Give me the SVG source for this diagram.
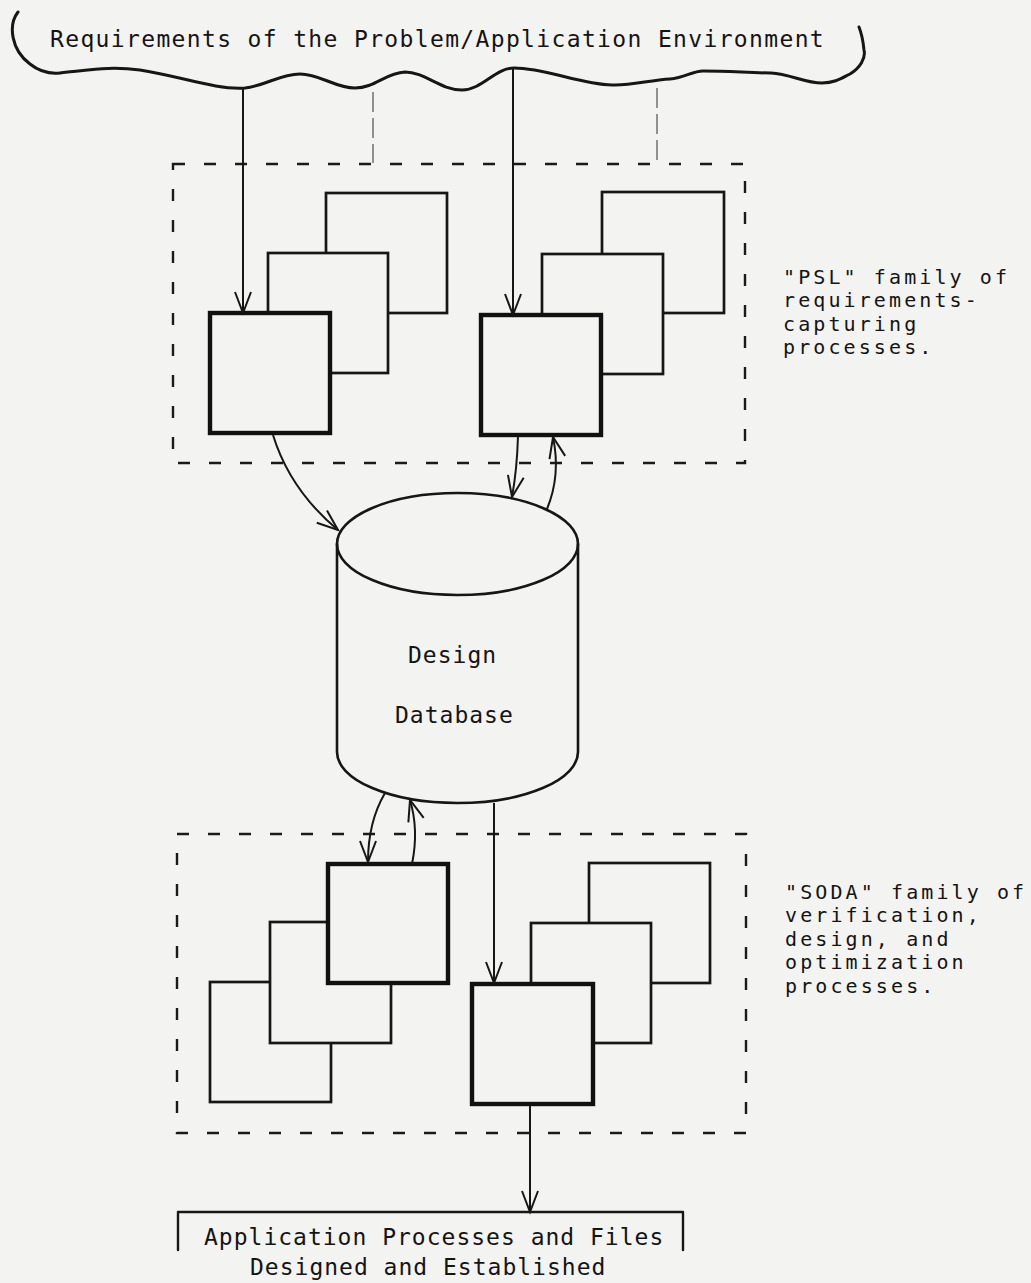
<svg xmlns="http://www.w3.org/2000/svg" width="1031" height="1283" viewBox="0 0 1031 1283">
  <style>
    .ink { fill: none; stroke: #161616; stroke-linecap: round; stroke-linejoin: round; }
    .box { fill: #f3f3f1; stroke: #161616; stroke-width: 2.7; }
    .box-main { fill: #f3f3f1; stroke: #111; stroke-width: 4.4; }
    .frame { fill: none; stroke: #1a1a1a; stroke-width: 2.4; stroke-dasharray: 12 19; }
    .conn { fill: none; stroke: #161616; stroke-width: 2; }
    .feed { fill: none; stroke: #666; stroke-width: 1.4; stroke-dasharray: 20 6; }
    .lbl { font-family: "DejaVu Sans Mono", "Liberation Mono", monospace; font-size: 23px; letter-spacing: 1px; fill: #141414; }
    .title { letter-spacing: 1.35px; }
    .side { font-family: "DejaVu Sans Mono", "Liberation Mono", monospace; font-size: 20px; letter-spacing: 3.1px; fill: #141414; }
  </style>
  <defs>
    <marker id="arr" viewBox="-24 -12 27 24" refX="0" refY="0" markerWidth="27" markerHeight="24" markerUnits="userSpaceOnUse" orient="auto">
      <path d="M -21 -8 L 0 0 L -21 8" fill="none" stroke="#161616" stroke-width="2"/>
    </marker>
  </defs>

  <rect width="1031" height="1283" fill="#f3f3f1"/>

  <!-- source: requirements brace -->
  <g id="requirements">
    <path class="ink" stroke-width="3" d="M 18 12 C 8 25, 11 50, 30 64 C 40 72, 50 74, 60 73 C 85 70, 110 66, 140 70 C 180 76, 215 90, 245 88 C 265 86, 280 74, 300 74 C 320 74, 335 88, 355 88 C 375 88, 385 73, 405 72 C 425 72, 440 90, 462 90 C 482 90, 495 68, 514 68 C 545 68, 580 84, 612 85 C 630 86, 650 80, 670 79 C 685 78, 692 71, 703 71 C 730 71, 750 73, 771 73 C 790 74, 805 83, 822 83 C 835 83, 842 78, 850 74 C 860 68, 866 58, 864 50 C 863 40, 861 32, 859 27"/>
    <text class="lbl title" x="50" y="47">Requirements of the Problem/Application Environment</text>
  </g>

  <!-- PSL family frame -->
  <g id="psl-family">
    <rect class="frame" x="173" y="164" width="572" height="299"/>
    <text class="side" x="783" y="284">"PSL" family of</text>
    <text class="side" x="783" y="307">requirements-</text>
    <text class="side" x="783" y="331">capturing</text>
    <text class="side" x="783" y="354">processes.</text>
  </g>

  <g id="psl-a">
    <rect class="box" x="326" y="193" width="121" height="120"/>
    <rect class="box" x="268" y="253" width="120" height="120"/>
    <rect class="box-main" x="210" y="313" width="120" height="120"/>
  </g>

  <g id="psl-b">
    <rect class="box" x="602" y="192" width="122" height="121"/>
    <rect class="box" x="542" y="254" width="121" height="120"/>
    <rect class="box-main" x="481" y="315" width="120" height="120"/>
  </g>

  <!-- design database cylinder -->
  <g id="design-database">
    <path class="ink" stroke-width="2.6" fill="#f3f3f1" d="M 337 544 L 337 752 A 120.5 51 0 0 0 578 752 L 578 544"/>
    <ellipse class="ink" stroke-width="2.6" fill="#f3f3f1" cx="457.5" cy="544" rx="120.5" ry="51"/>
    <text class="lbl" x="408" y="663">Design</text>
    <text class="lbl" x="395" y="723">Database</text>
  </g>

  <!-- SODA family frame -->
  <g id="soda-family">
    <rect class="frame" x="177" y="834" width="569" height="299"/>
    <text class="side" x="785" y="899">"SODA" family of</text>
    <text class="side" x="785" y="922">verification,</text>
    <text class="side" x="785" y="946">design, and</text>
    <text class="side" x="785" y="969">optimization</text>
    <text class="side" x="785" y="993">processes.</text>
  </g>

  <g id="soda-a">
    <rect class="box" x="210" y="982" width="121" height="120"/>
    <rect class="box" x="270" y="922" width="121" height="121"/>
    <rect class="box-main" x="328" y="864" width="120" height="119"/>
  </g>

  <g id="soda-b">
    <rect class="box" x="589" y="863" width="121" height="120"/>
    <rect class="box" x="531" y="923" width="120" height="120"/>
    <rect class="box-main" x="472" y="984" width="121" height="120"/>
  </g>

  <!-- result -->
  <g id="application">
    <path class="ink" stroke-width="2.4" d="M 178 1250 L 178 1212 L 683 1212 L 683 1250"/>
    <text class="lbl" x="204" y="1245">Application Processes and Files</text>
    <text class="lbl" x="250" y="1275">Designed and Established</text>
  </g>

  <!-- connectors -->
  <g id="connectors">
    <line class="conn" x1="243" y1="88" x2="243" y2="313" marker-end="url(#arr)"/>
    <line class="conn" x1="513" y1="68" x2="513" y2="315" marker-end="url(#arr)"/>
    <line class="feed" x1="373" y1="92" x2="373" y2="163"/>
    <line class="feed" x1="657" y1="88" x2="657" y2="163"/>
    <path class="conn" d="M 273 435 Q 290 490 338 530" marker-end="url(#arr)"/>
    <path class="conn" d="M 518 436 Q 517 470 512 497" marker-end="url(#arr)"/>
    <path class="conn" d="M 547 509 Q 561 475 553 437" marker-end="url(#arr)"/>
    <path class="conn" d="M 385 793 Q 368 822 368 862" marker-end="url(#arr)"/>
    <path class="conn" d="M 412 864 Q 419 830 410 800" marker-end="url(#arr)"/>
    <line class="conn" x1="494" y1="803" x2="494" y2="983" marker-end="url(#arr)"/>
    <line class="conn" x1="530" y1="1104" x2="530" y2="1212" marker-end="url(#arr)"/>
  </g>
</svg>
